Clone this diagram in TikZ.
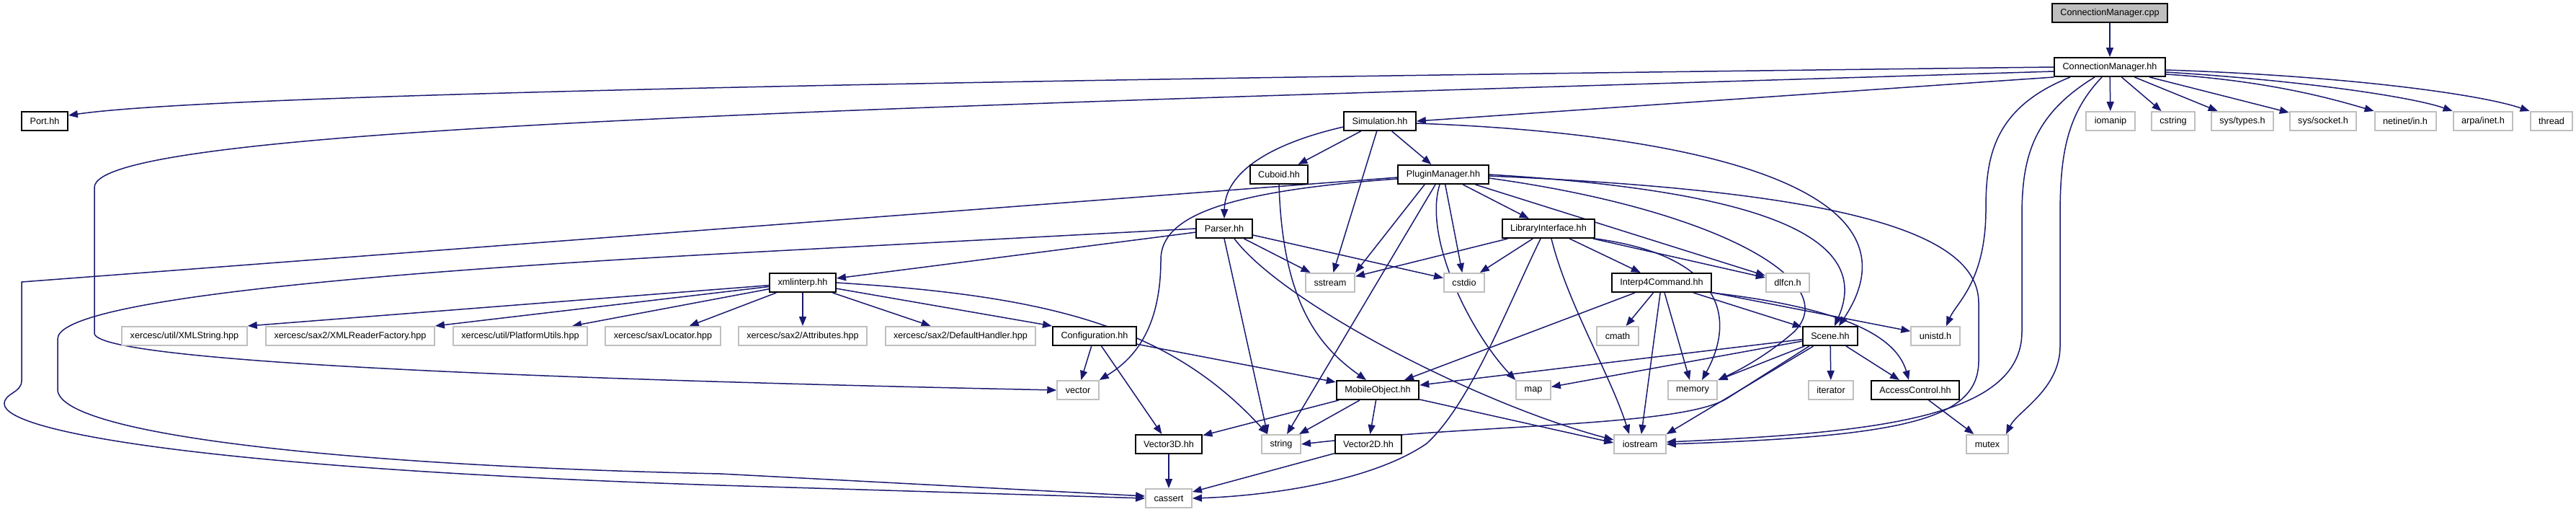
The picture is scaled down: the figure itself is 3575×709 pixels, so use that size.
\documentclass[tikz,border=0pt]{standalone}
\usepackage{fontspec}
\setmainfont{Liberation Sans}
\usepackage{tikz}
\usetikzlibrary{positioning,arrows.meta,calc,backgrounds}
\definecolor{edgeblue}{RGB}{25,25,112}
\definecolor{boxgray}{RGB}{191,191,191}
\tikzset{
  filebox/.style={draw=black,line width=1pt,fill=white,inner xsep=5.75pt,
    inner ysep=0pt,minimum height=13pt,font=\fontsize{6.33pt}{7.6pt}\selectfont},
  sysbox/.style={filebox,draw=boxgray},
  srcbox/.style={filebox,fill=boxgray},
  dep/.style={edgeblue,line width=0.75pt,-{Triangle[length=6.5pt,width=5pt]}}
}

\begin{document}
\begin{tikzpicture}[x=0.5pt,y=-0.5pt]
  \useasboundingbox (0,0) rectangle (3575,709);

  \node[srcbox] (cpp) at (2928,18) {ConnectionManager.cpp};
  \node[filebox] (cmhh) at (2928,93) {ConnectionManager.hh};

  \node[filebox] (port) at (62,168) {Port.hh};
  \node[filebox] (sim) at (1915,168) {Simulation.hh};
  \node[sysbox] (iomanip) at (2929,168) {iomanip};
  \node[sysbox] (cstring) at (3016,168) {cstring};
  \node[sysbox] (systypes) at (3112,168) {sys/types.h};
  \node[sysbox] (syssocket) at (3224,168) {sys/socket.h};
  \node[sysbox] (netinet) at (3338,168) {netinet/in.h};
  \node[sysbox] (arpa) at (3446,168) {arpa/inet.h};
  \node[sysbox] (thread) at (3541,168) {thread};

  \node[filebox] (cuboid) at (1775,242) {Cuboid.hh};
  \node[filebox] (plugin) at (2003,242) {PluginManager.hh};
  \node[filebox] (parser) at (1699,317) {Parser.hh};
  \node[filebox] (libif) at (2149,317) {LibraryInterface.hh};

  \node[filebox] (xmlinterp) at (1114,392) {xmlinterp.hh};
  \node[sysbox] (sstream) at (1846,392) {sstream};
  \node[sysbox] (cstdio) at (2032,392) {cstdio};
  \node[filebox] (interp) at (2306,392) {Interp4Command.hh};
  \node[sysbox] (dlfcn) at (2481,392) {dlfcn.h};

  \node[sysbox] (xmlstring) at (256,466) {xercesc/util/XMLString.hpp};
  \node[sysbox] (xmlreader) at (486,466) {xercesc/sax2/XMLReaderFactory.hpp};
  \node[sysbox] (platform) at (722,466) {xercesc/util/PlatformUtils.hpp};
  \node[sysbox] (locator) at (920,466) {xercesc/sax/Locator.hpp};
  \node[sysbox] (attributes) at (1114,466) {xercesc/sax2/Attributes.hpp};
  \node[sysbox] (defhandler) at (1333,466) {xercesc/sax2/DefaultHandler.hpp};
  \node[filebox] (config) at (1519,466) {Configuration.hh};
  \node[sysbox] (cmath) at (2245,466) {cmath};
  \node[filebox] (scene) at (2540,466) {Scene.hh};
  \node[sysbox] (unistd) at (2686,466) {unistd.h};

  \node[sysbox] (vector) at (1496,541) {vector};
  \node[filebox] (mobile) at (1912,541) {MobileObject.hh};
  \node[sysbox] (map) at (2128,541) {map};
  \node[sysbox] (memory) at (2349,541) {memory};
  \node[sysbox] (iterator) at (2541,541) {iterator};
  \node[filebox] (access) at (2658,541) {AccessControl.hh};

  \node[filebox] (vecthree) at (1622,616) {Vector3D.hh};
  \node[sysbox] (string) at (1778,616) {string};
  \node[filebox] (vectwo) at (1899,616) {Vector2D.hh};
  \node[sysbox] (iostream) at (2276,616) {iostream};
  \node[sysbox] (mutex) at (2758,616) {mutex};

  \node[sysbox] (cassert) at (1622,691) {cassert};

  \begin{scope}[on background layer]
    \draw[dep] (cpp) -- (cmhh);
    \draw[dep] (cmhh.west) .. controls (1400,110) and (300,130) .. ($(port.east)+(0,-8)$);
    \draw[dep] ($(cmhh.west)+(0,6)$) .. controls (1200,150) and (131,175) .. (131,260)
      -- (131,462) .. controls (131,500) and (700,525) .. (vector.west);
    \draw[dep] (cmhh.south west) -- (sim.east);
    \draw[dep] (cmhh) -- (iomanip);
    \draw[dep] (cmhh) -- (cstring);
    \draw[dep] (cmhh) -- (systypes);
    \draw[dep] (cmhh) -- (syssocket);
    \draw[dep] ($(cmhh.east)+(0,10)$) .. controls (3150,112) and (3240,138) .. (netinet.north west);
    \draw[dep] ($(cmhh.east)+(0,7)$) .. controls (3200,112) and (3350,135) .. (arpa.north west);
    \draw[dep] ($(cmhh.east)+(0,4)$) .. controls (3250,105) and (3440,130) .. (thread.north west);
    \draw[dep] ($(cmhh.south)+(-55,0)$) .. controls (2765,150) and (2756,220) .. (2756,290)
      .. controls (2756,390) and (2715,420) .. ($(unistd.north)+(15,0)$);
    \draw[dep] ($(cmhh.south)+(-21,0)$) .. controls (2820,160) and (2806,220) .. (2806,300)
      -- (2806,460) .. controls (2806,580) and (2600,600) .. ($(iostream.east)+(0,-3)$);
    \draw[dep] ($(cmhh.south)+(-11,0)$) .. controls (2866,160) and (2859,220) .. (2859,300)
      -- (2859,480) .. controls (2859,540) and (2800,570) .. ($(mutex.north)+(26,0)$);

    \draw[dep] ($(sim.west)+(0,8)$) .. controls (1760,200) and (1700,240) .. (parser.north);
    \draw[dep] (sim) -- (cuboid);
    \draw[dep] (sim) -- (sstream);
    \draw[dep] (sim) -- (plugin);
    \draw[dep] ($(sim.east)+(0,3)$) .. controls (2350,185) and (2680,260) .. ($(scene.north)+(12,0)$);

    \draw[dep] (cuboid.south) .. controls (1780,420) and (1830,480) .. ($(mobile.north)+(-16,0)$);

    \draw[dep] (parser) -- (xmlinterp);
    \draw[dep] (parser) -- (sstream);
    \draw[dep] (parser) -- (cstdio);
    \draw[dep] (parser.south) -- ($(string.north)+(-19,0)$);
    \draw[dep] ($(parser.south)+(14,0)$) .. controls (1780,420) and (2050,560) .. ($(iostream.west)+(0,-6)$);
    \draw[dep] (parser.west) -- (1000,352) .. controls (450,382) and (80,420) .. (80,470)
      -- (80,540) .. controls (80,600) and (450,645) .. (1000,657) -- ($(cassert.west)+(0,-3)$);

    \draw[dep] (xmlinterp) -- (xmlstring.north east);
    \draw[dep] (xmlinterp) -- (xmlreader.north east);
    \draw[dep] (xmlinterp) -- ($(platform.north east)+(-22,0)$);
    \draw[dep] (xmlinterp) -- (locator);
    \draw[dep] (xmlinterp) -- (attributes);
    \draw[dep] (xmlinterp) -- (defhandler);
    \draw[dep] (xmlinterp) -- (config.north west);
    \draw[dep] (xmlinterp.east) .. controls (1450,410) and (1620,450) .. ($(string.north)+(-19,0)$);

    \draw[dep] (config) -- (vector);
    \draw[dep] (config) -- (vecthree);
    \draw[dep] (config) -- (mobile);

    \draw[dep] ($(plugin.west)+(0,6)$) .. controls (1700,265) and (1611,300) .. (1611,360)
      .. controls (1611,460) and (1570,500) .. (vector.north east);
    \draw[dep] ($(plugin.west)+(0,4)$) -- (30,391) -- (30,528) .. controls (30,545) and (6,545) .. (6,560)
      .. controls (6,600) and (300,650) .. (1000,673) -- (cassert.west);
    \draw[dep] ($(plugin.south)+(-26,0)$) -- (sstream.north east);
    \draw[dep] ($(plugin.south)+(-11,0)$) -- ($(string.north)+(8,0)$);
    \draw[dep] ($(plugin.south)+(-5,0)$) .. controls (1975,330) and (2040,460) .. (map.north west);
    \draw[dep] (plugin) -- (cstdio);
    \draw[dep] (plugin) -- (libif);
    \draw[dep] (plugin) -- (dlfcn);
    \draw[dep] ($(plugin.east)+(0,5)$) .. controls (2380,290) and (2560,390) .. (2490,460)
      .. controls (2450,495) and (2410,515) .. (memory.north east);
    \draw[dep] (plugin.east) .. controls (2450,265) and (2600,330) .. ($(scene.north)+(6,0)$);
    \draw[dep] ($(plugin.east)+(0,2)$) .. controls (2550,265) and (2746,320) .. (2746,420)
      -- (2746,500) .. controls (2746,580) and (2650,605) .. (iostream.east);

    \draw[dep] (libif) -- (sstream);
    \draw[dep] (libif) -- (cstdio);
    \draw[dep] (libif) -- (interp);
    \draw[dep] (libif) -- (dlfcn);
    \draw[dep] (libif.south east) .. controls (2390,355) and (2410,440) .. ($(memory.north)+(13,0)$);
    \draw[dep] ($(libif.south)+(-11,0)$) .. controls (2090,430) and (2040,560) .. (1980,615)
      .. controls (1900,670) and (1750,688) .. (cassert.east);
    \draw[dep] ($(libif.south)+(4,0)$) .. controls (2175,420) and (2235,520) .. ($(iostream.north)+(-15,0)$);

    \draw[dep] (interp) -- (mobile);
    \draw[dep] (interp) -- (cmath);
    \draw[dep] (interp) -- (iostream);
    \draw[dep] (interp) -- (memory);
    \draw[dep] (interp) -- (scene);
    \draw[dep] (interp) -- (unistd);
    \draw[dep] (interp.south east) .. controls (2540,425) and (2630,460) .. ($(access.north)+(-9,0)$);

    \draw[dep] (scene) -- (mobile);
    \draw[dep] (scene) -- (map);
    \draw[dep] (scene) -- (memory);
    \draw[dep] (scene) -- (iostream.north east);
    \draw[dep] (scene) -- (iterator);
    \draw[dep] (scene) -- (access);
    \draw[dep] ($(scene.south west)+(10,0)$) -- (2396,553) .. controls (2330,592) and (2050,588) .. (string.east);

    \draw[dep] (access) -- (mutex);

    \draw[dep] (mobile) -- (vecthree);
    \draw[dep] (mobile) -- (string);
    \draw[dep] (mobile) -- (vectwo);
    \draw[dep] (mobile) -- ($(iostream.west)+(0,-2)$);

    \draw[dep] (vecthree) -- (cassert);
    \draw[dep] (vectwo) -- (cassert);
  \end{scope}
\end{tikzpicture}
\end{document}
